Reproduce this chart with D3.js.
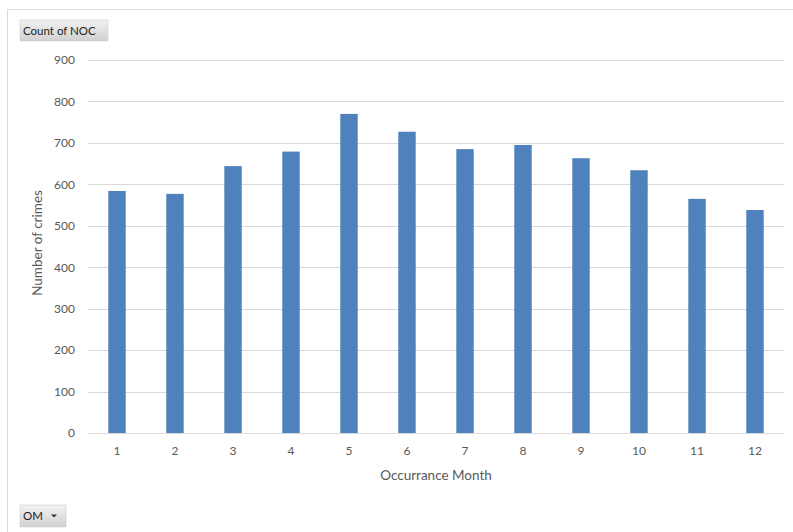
<!DOCTYPE html>
<html>
<head>
<meta charset="utf-8">
<script src="https://cdn.jsdelivr.net/npm/d3@7"></script>
<style>
  html, body { margin: 0; padding: 0; background: #fff; }
  svg { display: block; }
  text { font-family: Lato, "Open Sans", "Noto Sans", sans-serif; }
</style>
</head>
<body>
<svg id="chart" width="793" height="532"></svg>
<script>
const months = ["1","2","3","4","5","6","7","8","9","10","11","12"];
const counts = [584, 577, 644, 679, 770, 727, 685, 695, 663, 634, 565, 538];
const yTicks = [0,100,200,300,400,500,600,700,800,900];
const yTitle = "Number of crimes";
const xTitle = "Occurrance Month";
const fieldButton = "Count of NOC";
const axisButton = "OM";

const svg = d3.select("#chart");
const W = 793, H = 532;
const m = {left: 88, right: 9, top: 60, bottom: 99};

// frame
svg.append("line").attr("x1", 7).attr("x2", W).attr("y1", 9.5).attr("y2", 9.5)
  .attr("stroke", "#d9d9d9").attr("stroke-width", 1);
svg.append("line").attr("x1", 7.5).attr("x2", 7.5).attr("y1", 9).attr("y2", H)
  .attr("stroke", "#d9d9d9").attr("stroke-width", 1);

const x = d3.scaleBand().domain(months).range([m.left, W - m.right]).paddingInner(0.7).paddingOuter(0.35);
const y = d3.scaleLinear().domain([0, 900]).range([H - m.bottom, m.top]);

// gridlines
svg.append("g").selectAll("line").data(yTicks.filter(d => d > 0)).join("line")
  .attr("x1", m.left).attr("x2", W - m.right)
  .attr("y1", d => Math.round(y(d)) + 0.5).attr("y2", d => Math.round(y(d)) + 0.5)
  .attr("stroke", "#d9d9d9").attr("stroke-width", 1);

// y axis labels
const yAxis = d3.axisLeft(y).tickValues(yTicks).tickSize(0).tickPadding(13);
const gy = svg.append("g").attr("transform", `translate(${m.left},0)`).call(yAxis);
gy.select(".domain").remove();
gy.selectAll("text").attr("fill", "#595959").style("font-size", "12px")
  .style("font-family", "Lato, 'Open Sans', sans-serif");

// bars
svg.append("g").selectAll("rect").data(counts).join("rect")
  .attr("x", (d, i) => x(months[i]))
  .attr("width", x.bandwidth())
  .attr("y", d => y(d))
  .attr("height", d => y(0) - y(d))
  .attr("fill", "#4f81bd");

// x axis
const xAxis = d3.axisBottom(x).tickSize(0).tickPadding(13);
const gx = svg.append("g").attr("transform", `translate(0,${y(0)})`).call(xAxis);
gx.select(".domain").attr("stroke", "#d9d9d9");
gx.selectAll("text").attr("fill", "#595959").style("font-size", "12px")
  .style("font-family", "Lato, 'Open Sans', sans-serif");

// titles
svg.append("text").attr("x", (m.left + W - m.right) / 2).attr("y", 480)
  .attr("text-anchor", "middle").attr("fill", "#595959").style("font-size", "13.5px")
  .text(xTitle);
svg.append("text").attr("transform", "translate(42,243) rotate(-90)")
  .attr("text-anchor", "middle").attr("fill", "#595959").style("font-size", "13.5px")
  .text(yTitle);

// field buttons
const defs = svg.append("defs");
const grad = defs.append("linearGradient").attr("id", "btn").attr("x1", 0).attr("x2", 0).attr("y1", 0).attr("y2", 1);
grad.append("stop").attr("offset", "0%").attr("stop-color", "#f2f2f2");
grad.append("stop").attr("offset", "100%").attr("stop-color", "#d0d0d0");

function button(bx, by, bw, bh, label, arrow) {
  const g = svg.append("g");
  g.append("rect").attr("x", bx).attr("y", by).attr("width", bw).attr("height", bh)
    .attr("fill", "url(#btn)").attr("stroke", "#c8c8c8").attr("stroke-width", 0.5);
  g.append("text").attr("x", bx + 3).attr("y", by + bh / 2 + 4)
    .attr("fill", "#222").style("font-size", "11.5px").text(label);
  if (arrow) {
    const ax = bx + bw - 12, ay = by + bh / 2;
    g.append("path").attr("d", `M${ax - 3},${ay - 1.5} L${ax + 3},${ay - 1.5} L${ax},${ay + 1.5} Z`).attr("fill", "#333");
  }
}
button(20, 20, 88, 21, fieldButton, false);
button(20, 505, 46, 22, axisButton, true);
</script>
</body>
</html>
